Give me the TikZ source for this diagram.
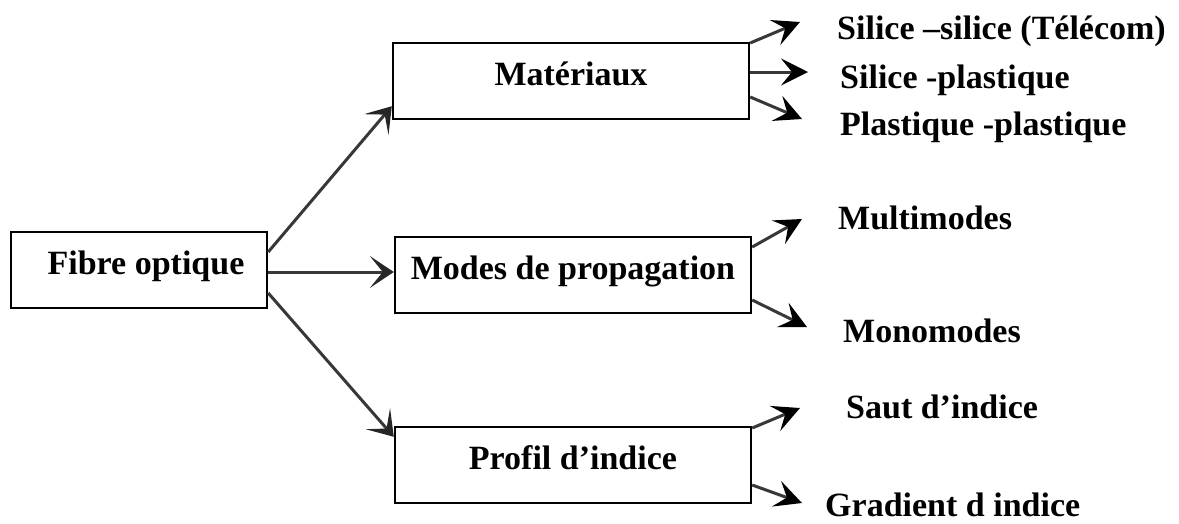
\documentclass[tikz,border=0pt]{standalone}
\usepackage{fontspec}
\setmainfont{Liberation Serif}
\usepackage{tikz}
\usetikzlibrary{calc, arrows.meta, positioning}

\tikzset{
	boite/.style = {draw, line width = 2.4pt, inner sep = 0pt, minimum width = 356, text height = 42, text depth = 34},
	feuille/.style = {anchor = base west, inner sep = 0pt},
	fleche/.style = {line width = 3pt, color = black!78, -{Stealth[length = 24pt, width = 32pt, inset = 13pt, black!85]}},
	branche/.style = {line width = 3pt, color = black!78, -{Stealth[length = 27pt, width = 27pt, inset = 11pt, black]}}
}

\begin{document}
\begin{tikzpicture}[x = 1pt, y = -1pt, font = \fontsize{34}{40}\selectfont\bfseries]
			\useasboundingbox (0,0) rectangle (1179, 523);
			\node[boite, minimum width = 256] (fibre) at (139, 270){\hspace*{14pt}Fibre optique};
			\node[boite] (mat) at (571, 81){Matériaux};
			\node[boite] (modes) at (573, 275){Modes de propagation};
			\node[boite] (profil) at (573, 465){Profil d’indice};
			\draw[fleche] ([yshift = 18]fibre.east) -- ([yshift = 14]mat.south west);
			\draw[fleche] ([yshift = -2]fibre.east) -- ([yshift = -2]fibre.east -| modes.west);
			\draw[fleche] ([yshift = -23]fibre.east) -- ([yshift = -11]profil.north west);
			\node[feuille] (silsil) at (837, 39){Silice –silice (Télécom)};
			\node[feuille] (silpla) at (840, 88){Silice -plastique};
			\node[feuille] (plapla) at (840, 135){Plastique -plastique};
			\node[feuille] (multi) at (838, 229){Multimodes};
			\node[feuille] (mono) at (843, 342){Monomodes};
			\node[feuille] (saut) at (846, 418){Saut d’indice};
			\node[feuille] (grad) at (825, 516){Gradient d indice};
			\coordinate (t1) at (800, 22);
			\coordinate (t2) at (808, 72);
			\coordinate (t3) at (802, 119);
			\coordinate (t4) at (802, 219);
			\coordinate (t5) at (807, 327);
			\coordinate (t6) at (800, 408);
			\coordinate (t7) at (802, 503);
			\draw[branche] ([yshift = 38]mat.east) -- (t1);
			\draw[branche] ([yshift = 9]mat.east) -- (t2);
			\draw[branche] ([yshift = -16]mat.east) -- (t3);
			\draw[branche] ([yshift = 28]modes.east) -- (t4);
			\draw[branche] ([yshift = -25]modes.east) -- (t5);
			\draw[branche] ([yshift = 37]profil.east) -- (t6);
			\draw[branche] ([yshift = -20]profil.east) -- (t7);
		\end{tikzpicture}
\end{document}
